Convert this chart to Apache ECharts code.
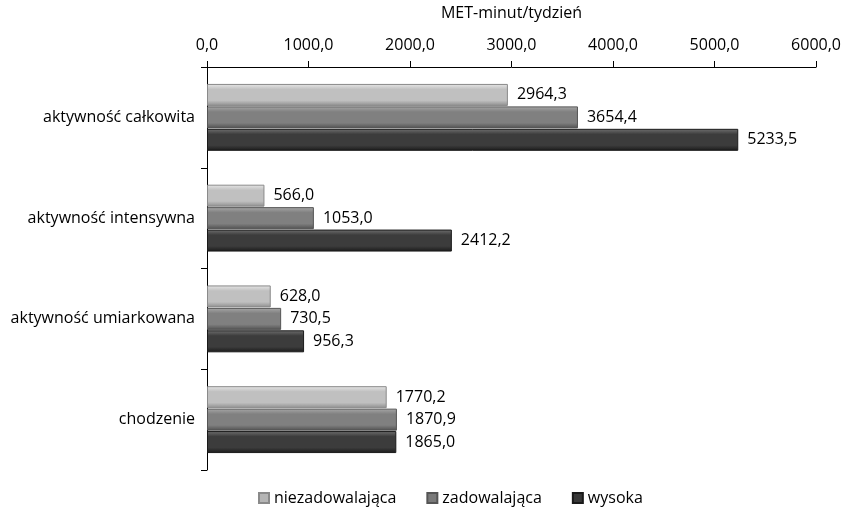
<!DOCTYPE html>
<html><head><meta charset="utf-8">
<script src="https://cdn.jsdelivr.net/npm/echarts@6/dist/echarts.min.js"></script>
<style>html,body{margin:0;padding:0;background:#fff}#c{width:844px;height:508px}</style>
</head><body><div id="c"></div>
<script>
const categories = ['aktywność całkowita','aktywność intensywna','aktywność umiarkowana','chodzenie'];
const seriesNames = ['niezadowalająca','zadowalająca','wysoka'];
const niezadowalajaca = [2964.3, 566.0, 628.0, 1770.2];
const zadowalajaca = [3654.4, 1053.0, 730.5, 1870.9];
const wysoka = [5233.5, 2412.2, 956.3, 1865.0];
const axisTitle = 'MET-minut/tydzień';

const FONT = '"Open Sans", sans-serif';
const FS = 16;
function grad(top, mid, bot){
  return new echarts.graphic.LinearGradient(0,0,0,1,[
    {offset:0,color:top},{offset:0.25,color:mid},{offset:0.75,color:mid},{offset:1,color:bot}]);
}
const styles = [
  {c: grad('#e6e6e6','#c0c0c0','#8c8c8c'), b:'#8a8a8a', leg:'#b5b5b5'},
  {c: grad('#a8a8a8','#808080','#505050'), b:'#555555', leg:'#7a7a7a'},
  {c: grad('#707070','#3c3c3c','#1a1a1a'), b:'#1a1a1a', leg:'#383838'}
];
const fmt = v => Number(v).toFixed(1).replace('.', ',');
const dataSets = [niezadowalajaca, zadowalajaca, wysoka];
const chart = echarts.init(document.getElementById('c'));
chart.setOption({
  animation:false,
  textStyle:{fontFamily:FONT},
  grid:{left:207,right:27,top:65,bottom:38,containLabel:false},
  legend:{
    top:485,left:253,itemWidth:10,itemHeight:10,itemGap:30,icon:'rect',
    textStyle:{fontFamily:FONT,fontSize:FS,color:'#000'},
    data:seriesNames.map((n,i)=>({name:n,itemStyle:{color:styles[i].leg}}))
  },
  xAxis:{
    type:'value',position:'top',min:0,max:6000,interval:1000,
    name:axisTitle,nameLocation:'middle',nameGap:46,
    nameTextStyle:{fontFamily:FONT,fontSize:FS,color:'#000'},
    axisLine:{show:true,lineStyle:{color:'#000',width:1}},
    axisTick:{show:true,length:6,lineStyle:{color:'#000'}},
    axisLabel:{formatter:fmt,fontFamily:FONT,fontSize:FS,color:'#000',margin:14},
    splitLine:{show:false}
  },
  yAxis:{
    type:'category',data:categories,inverse:true,
    axisLine:{show:true,lineStyle:{color:'#000',width:1}},
    axisTick:{show:true,length:6,lineStyle:{color:'#000'}},
    axisLabel:{fontFamily:FONT,fontSize:FS,color:'#000',margin:12}
  },
  series:seriesNames.map((n,i)=>({
    name:n,type:'bar',data:dataSets[i],barWidth:22,barGap:'2%',
    itemStyle:{color:styles[i].c,borderColor:styles[i].b,borderWidth:1},
    label:{show:true,position:'right',distance:9,formatter:p=>fmt(p.value),fontFamily:FONT,fontSize:FS,color:'#000'}
  }))
});
</script></body></html>
